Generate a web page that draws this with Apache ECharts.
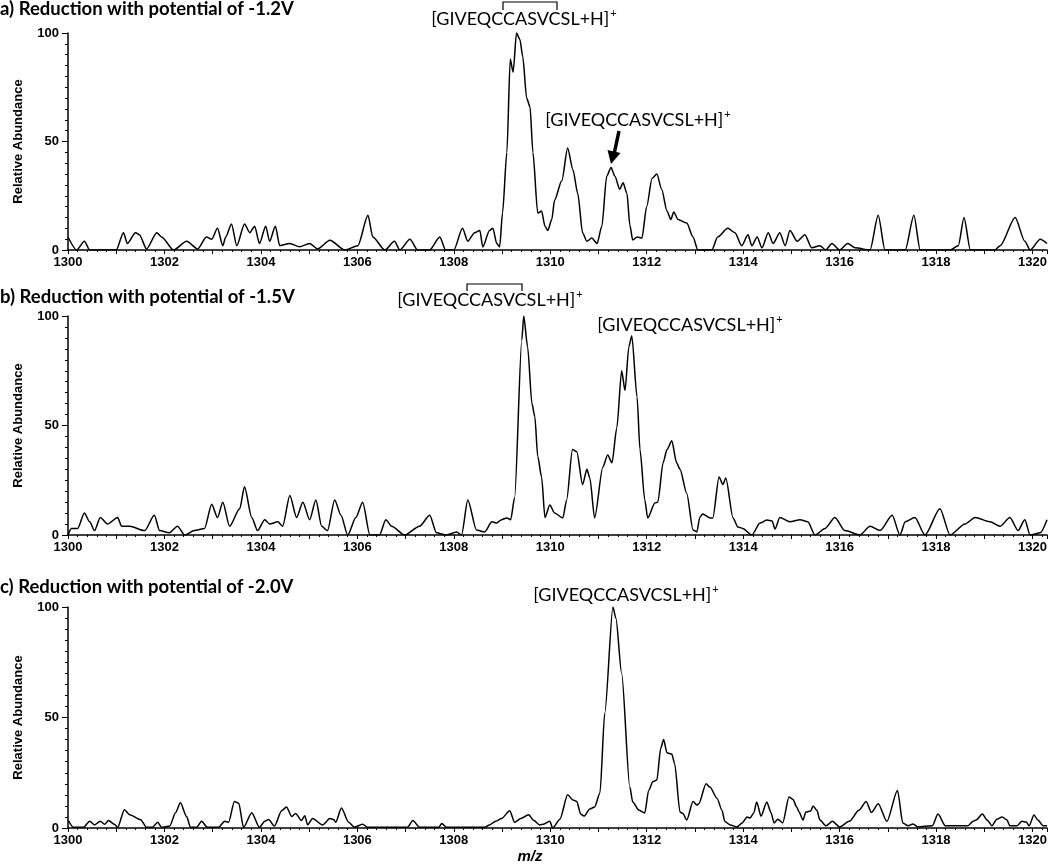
<!DOCTYPE html>
<html>
<head>
<meta charset="utf-8">
<script src="https://cdn.jsdelivr.net/npm/echarts@6/dist/echarts.min.js"></script>
<style>
html,body{margin:0;padding:0;background:#fff;}
#chart{width:1050px;height:868px;}
</style>
</head>
<body>
<div id="chart"></div>
<script>
// ---------- DATA ----------
const panelTitles = [
  'a) Reduction with potential of -1.2V',
  'b) Reduction with potential of -1.5V',
  'c) Reduction with potential of -2.0V'
];
const yTicks = [0, 50, 100];
const xTickLabels = [1300, 1302, 1304, 1306, 1308, 1310, 1312, 1314, 1316, 1318, 1320];
const peptideLabel = 'GIVEQCCASVCSL+H';

// Panel a (-1.2 V)
const mzA = [1300.0,1300.18,1300.34,1300.45,1301.0,1301.15,1301.23,1301.4,1301.48,1301.63,1301.84,1301.94,1302.19,1302.46,1302.69,1302.87,1302.98,1303.1,1303.21,1303.27,1303.39,1303.5,1303.66,1303.77,1303.87,1303.97,1304.1,1304.18,1304.3,1304.39,1304.6,1304.8,1305.01,1305.18,1305.43,1305.74,1306.01,1306.22,1306.32,1306.57,1306.77,1306.88,1307.09,1307.25,1307.5,1307.71,1307.83,1308.0,1308.18,1308.29,1308.43,1308.54,1308.6,1308.74,1308.81,1308.89,1308.95,1309.01,1309.1,1309.17,1309.23,1309.3,1309.37,1309.43,1309.51,1309.58,1309.64,1309.74,1309.82,1309.89,1309.95,1310.03,1310.09,1310.24,1310.36,1310.47,1310.57,1310.67,1310.76,1310.86,1310.97,1311.07,1311.17,1311.26,1311.34,1311.44,1311.51,1311.59,1311.65,1311.71,1311.8,1311.9,1312.0,1312.11,1312.21,1312.31,1312.42,1312.5,1312.56,1312.65,1312.83,1312.96,1313.06,1313.35,1313.47,1313.68,1313.83,1313.97,1314.1,1314.18,1314.29,1314.39,1314.52,1314.62,1314.76,1314.87,1314.97,1315.12,1315.28,1315.42,1315.59,1315.71,1315.84,1316.0,1316.17,1316.32,1316.63,1316.8,1316.94,1317.36,1317.54,1317.67,1318.29,1318.46,1318.58,1318.71,1319.22,1319.33,1319.64,1319.84,1319.95,1320.16,1320.3];
const intA = [6,0,4,0,0,8,3,8,7,0.5,8,6,0,4,0.5,6,5,10,2,6,12,2,12,8,11,3,11,4,11,2,3,1.5,3,0.5,4.5,0,2,16,6,0,4,0,5,0,0,6,0,0,10,4,8,9,1.4,9,10,3,1.4,17,45,88,82,100,97,89,70,66,45,17,18,11,9,14,23,32,47,37,26,8,4,5.5,3,11,34,38,34,28,31,26,11.5,4.6,6,5.5,20,33,35,28,18,14,17.5,14,12.4,6,0,0,6,10,8,2,7,2,6,1,8,3,8,2,9,4,7,1,2,0,3,0,3,1,0,16,0,0,16,0,0,2,15,0,0,2,15,4,0,5,3];

// Panel b (-1.5 V)
const mzB = [1300.0,1300.07,1300.2,1300.34,1300.45,1300.55,1300.67,1300.82,1301.03,1301.11,1301.28,1301.59,1301.79,1301.9,1302.1,1302.27,1302.42,1302.62,1302.83,1302.98,1303.1,1303.21,1303.35,1303.56,1303.66,1303.81,1303.93,1304.08,1304.18,1304.35,1304.45,1304.6,1304.74,1304.87,1305.01,1305.14,1305.26,1305.38,1305.53,1305.66,1305.8,1305.97,1306.11,1306.26,1306.46,1306.59,1306.71,1306.98,1307.29,1307.5,1307.64,1307.85,1308.06,1308.16,1308.29,1308.47,1308.64,1308.79,1308.89,1308.99,1309.1,1309.18,1309.26,1309.41,1309.45,1309.53,1309.62,1309.68,1309.74,1309.82,1309.89,1309.99,1310.09,1310.26,1310.34,1310.46,1310.55,1310.67,1310.76,1310.82,1310.92,1311.09,1311.19,1311.28,1311.38,1311.48,1311.55,1311.63,1311.69,1311.8,1311.86,1311.96,1312.02,1312.17,1312.23,1312.34,1312.42,1312.52,1312.62,1312.69,1312.83,1312.96,1313.04,1313.1,1313.16,1313.31,1313.37,1313.5,1313.58,1313.64,1313.79,1313.89,1313.99,1314.18,1314.35,1314.49,1314.6,1314.66,1314.76,1314.97,1315.18,1315.34,1315.49,1315.7,1315.9,1316.11,1316.42,1316.63,1316.84,1317.09,1317.25,1317.36,1317.56,1317.77,1318.08,1318.29,1318.6,1318.81,1319.12,1319.33,1319.53,1319.7,1319.84,1319.95,1320.16,1320.3];
const intB = [0,3,3,10,6,2,8,5,8,4,4,2,9,2,1,4,0,2,3,14,8,15,4,12,22,8,2,7,5,6,4,18,8,15,7,16,4,2,16,9,0,8,15,0,0,7,4,0,4,9,1,0,1.4,0,16,2.3,1.4,6,5.5,7,7.8,7,17,89,100,86,60,54,36,26.5,8,13.7,10,7.8,16,39,38,23,30,26,7.8,31,36.5,33,49,75,66,86,91,63,39,16,7.8,14.6,15,33,39,43,33,30,19,2.3,1.4,8,9.6,7.8,7.8,26.5,23,26,7.8,3.7,3,0,5.5,6.8,6.4,2.7,8,6,7,6,0,3,8,2,0,4,2,9,0,6,8,0,12,0,5,8,6,4,8,2,7,0,1,7];

// Panel c (-2.0 V)
const mzC = [1300.01,1300.11,1300.32,1300.45,1300.55,1300.67,1300.76,1300.84,1300.96,1301.03,1301.17,1301.28,1301.5,1301.63,1301.75,1301.86,1301.94,1302.11,1302.23,1302.33,1302.46,1302.54,1302.67,1302.77,1302.89,1303.12,1303.25,1303.33,1303.45,1303.54,1303.64,1303.81,1303.97,1304.08,1304.16,1304.28,1304.43,1304.53,1304.64,1304.72,1304.84,1304.91,1304.97,1305.07,1305.28,1305.43,1305.51,1305.55,1305.67,1305.82,1305.94,1306.11,1306.21,1307.04,1307.15,1307.29,1307.69,1307.75,1307.85,1308.64,1308.74,1308.87,1308.99,1309.16,1309.26,1309.39,1309.55,1309.66,1309.78,1309.86,1309.99,1310.05,1310.2,1310.36,1310.47,1310.55,1310.63,1310.7,1310.82,1310.92,1311.03,1311.13,1311.3,1311.36,1311.48,1311.65,1311.71,1311.84,1311.96,1312.04,1312.13,1312.21,1312.29,1312.35,1312.42,1312.52,1312.58,1312.69,1312.75,1312.83,1312.96,1313.04,1313.08,1313.23,1313.31,1313.46,1313.56,1313.62,1313.73,1313.87,1313.98,1314.08,1314.14,1314.22,1314.28,1314.37,1314.49,1314.58,1314.64,1314.72,1314.82,1314.95,1315.03,1315.11,1315.16,1315.24,1315.3,1315.4,1315.45,1315.53,1315.59,1315.72,1315.85,1316.0,1316.2,1316.4,1316.55,1316.66,1316.8,1316.98,1317.2,1317.31,1317.42,1317.52,1317.62,1317.92,1318.04,1318.19,1318.66,1318.77,1318.83,1318.96,1319.06,1319.16,1319.26,1319.37,1319.47,1319.53,1319.68,1319.78,1319.87,1319.93,1320.03,1320.11,1320.22,1320.3];
const intC = [3.4,0.3,0.3,3.1,1.4,3.1,1.7,3.4,1.7,0.3,8.3,6,3.8,0.3,0.3,2.6,0.3,0.9,6.9,11.4,5.2,0.3,0.3,3.1,0.3,0.3,3.1,2.6,12,11.2,0.3,6.9,0.3,3.1,3.8,0.9,7.8,9.5,5.2,6.6,3.4,5.5,1.4,4.3,1.4,4.3,3.8,2.6,9,2.6,0.3,1.7,0.3,0.3,3.4,0.3,0.3,2,0.3,0.3,1.4,3.1,4.3,7.8,2.6,4.3,6,3.4,1.4,1.7,3.1,0,4,15,12.7,12,6.3,5.4,8.6,9.5,15.8,52,100,95,70,18.5,11.8,8,6.8,17,21,21.7,36,40,34,33.5,29,7.2,6.6,3.6,12,10.4,11,20,18.5,13.4,8,2.9,1.4,0.5,2.3,5,4.5,6.8,11.8,5.4,11.8,6.8,2.3,4,2.3,14,13,9.5,7.2,3.6,7.2,7.7,10,8,3.6,1,3,0.5,3,8,12,7,11,3,17,2.3,1,1.8,0.5,1,6.3,1,1,3,3.6,6.3,3.6,1,4,5,3.6,1,1,3,2.7,1,5.9,3.6,1,1];

// ---------- CHART ----------
const chart = echarts.init(document.getElementById('chart'));
const grids = [
  {left: 68, right: 3, top: 33, height: 217},
  {left: 68, right: 3, top: 316, height: 219},
  {left: 68, right: 3, top: 607, height: 221}
];
const axisFont = {fontFamily: 'Liberation Sans, Arial', fontWeight: 'bold', fontSize: 13, color: '#000'};

function xAxis(i) {
  return {
    type: 'value', gridIndex: i, min: 1300, max: 1320.3, interval: 1,
    axisLine: {lineStyle: {color: '#000', width: 1.5}},
    axisTick: {length: 4, lineStyle: {color: '#000', width: 1}},
    minorTick: {show: true, splitNumber: 5, length: 2, lineStyle: {color: '#000', width: 1}},
    splitLine: {show: false},
    axisLabel: Object.assign({
      margin: 6,
      formatter: v => (xTickLabels.indexOf(Math.round(v * 1000) / 1000) >= 0 ? String(v) : '')
    }, axisFont)
  };
}
function yAxis(i) {
  return {
    type: 'value', gridIndex: i, min: 0, max: 100, interval: 50,
    name: 'Relative Abundance', nameLocation: 'middle', nameGap: 43,
    nameTextStyle: {fontFamily: 'Liberation Sans, Arial', fontWeight: 'bold', fontSize: 13, color: '#000'},
    axisLine: {show: true, lineStyle: {color: '#000', width: 1.5}},
    axisTick: {show: true, length: 6, lineStyle: {color: '#000', width: 1}},
    minorTick: {show: true, splitNumber: 10, length: 3, lineStyle: {color: '#000', width: 1}},
    splitLine: {show: false},
    axisLabel: Object.assign({margin: 9, formatter: v => (yTicks.indexOf(v) >= 0 ? String(v) : '')}, axisFont)
  };
}
function series(i, mz, vals) {
  return {
    type: 'line', xAxisIndex: i, yAxisIndex: i,
    data: mz.map((m, k) => [m, vals[k]]),
    showSymbol: false, symbol: 'none', smooth: 0.25, smoothMonotone: 'x',
    lineStyle: {color: '#000', width: 1.5}, silent: true, animation: false
  };
}

const titleFont = {fontFamily: 'Lato, Open Sans', fontWeight: 'bold', fontSize: 18.5, color: '#000'};
const annFont = 'Lato, Open Sans';
function annText(x, y, fs) {
  return {
    type: 'text', x: x, y: y, silent: true,
    style: {
      text: '{t|[' + peptideLabel + ']}{s|+}',
      align: 'center', verticalAlign: 'middle',
      rich: {
        t: {fontFamily: annFont, fontSize: fs, fill: '#000', lineHeight: 22},
        s: {fontFamily: annFont, fontSize: 11, fill: '#000', lineHeight: 22, padding: [0, 0, 12, 1]}
      }
    }
  };
}
function bracket(x1, x2, yTop, yBot) {
  return {type: 'polyline', silent: true,
    shape: {points: [[x1, yBot], [x1, yTop], [x2, yTop], [x2, yBot]]},
    style: {stroke: '#000', lineWidth: 1.2, fill: null}};
}

chart.setOption({
  animation: false,
  backgroundColor: '#fff',
  title: [
    {text: panelTitles[0], left: 0, top: 0, textStyle: titleFont, padding: 0},
    {text: panelTitles[1], left: 0, top: 288, textStyle: titleFont, padding: 0},
    {text: panelTitles[2], left: 0, top: 578, textStyle: titleFont, padding: 0}
  ],
  grid: grids,
  xAxis: [xAxis(0), xAxis(1), xAxis(2)],
  yAxis: [yAxis(0), yAxis(1), yAxis(2)],
  series: [series(0, mzA, intA), series(1, mzB, intB), series(2, mzC, intC)],
  graphic: [
    annText(524, 19, 18), bracket(503, 557, 2, 10),
    annText(638, 120, 18),
    {type: 'line', silent: true, shape: {x1: 619, y1: 131, x2: 614.5, y2: 152},
      style: {stroke: '#000', lineWidth: 3.5}},
    {type: 'polygon', silent: true, shape: {points: [[611, 164], [607.5, 150], [620.5, 153]]},
      style: {fill: '#000'}},
    annText(490, 300, 18), bracket(467, 522, 284, 291),
    annText(690, 325, 18),
    annText(626, 595, 18),
    {type: 'text', x: 530, y: 857, silent: true,
      style: {text: 'm/z', align: 'center', verticalAlign: 'middle',
        font: 'italic bold 15px Liberation Sans, Arial', fill: '#000'}}
  ]
});
</script>
</body>
</html>
